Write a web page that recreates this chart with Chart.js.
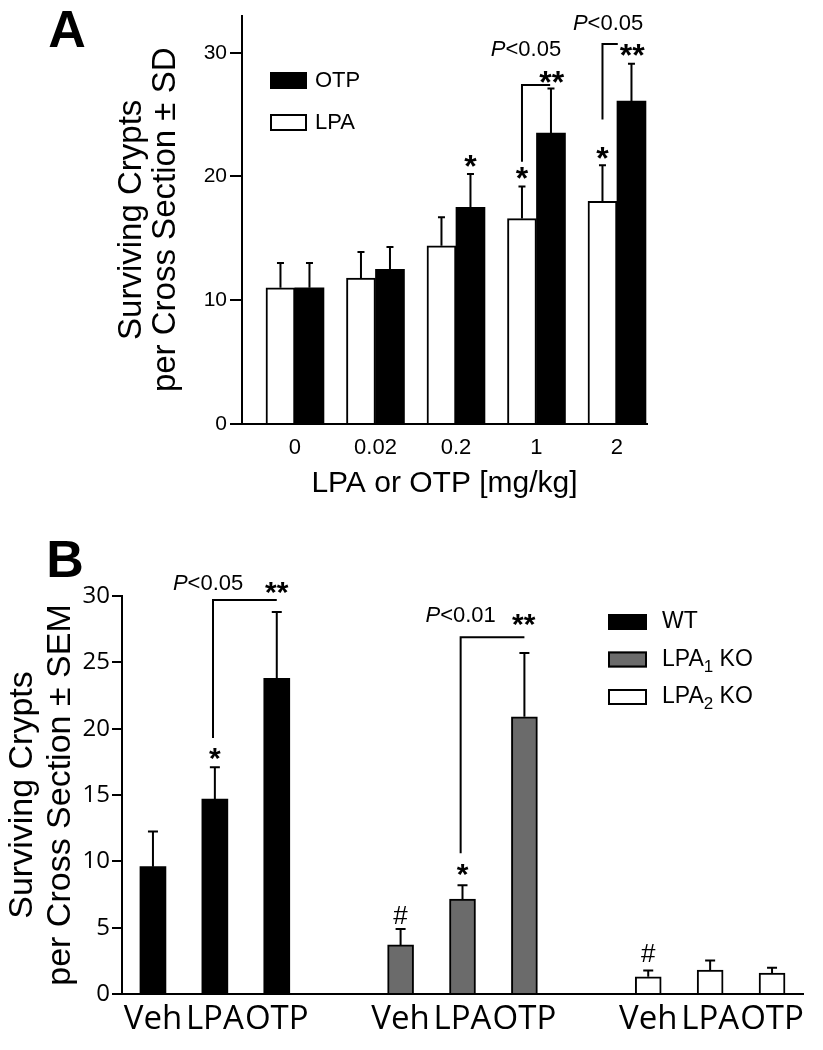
<!DOCTYPE html>
<html><head><meta charset="utf-8">
<script src="https://cdn.jsdelivr.net/npm/chart.js@4.4.0/dist/chart.umd.min.js"></script>
<style>
html,body{margin:0;padding:0;background:#fff;}
#wrap{position:relative;width:823px;height:1050px;overflow:hidden;background:#fff;}
.pane{position:absolute;left:0;width:823px;}
#pa{top:0;height:510px;}
#pb{top:510px;height:540px;}
canvas{display:block;}
</style></head><body>
<div id="wrap">
<div class="pane" id="pa"><canvas id="ca" width="823" height="510"></canvas></div>
<div class="pane" id="pb"><canvas id="cb" width="823" height="540"></canvas></div>
</div>
<script>
// ---------- Panel A data ----------
const dosesA = ['0', '0.02', '0.2', '1', '2'];
const lpaA = [11.0, 11.8, 14.4, 16.6, 18.0];
const lpaSdA = [2.0, 2.1, 2.3, 2.6, 2.9];
const otpA = [11.0, 12.5, 17.5, 23.5, 26.1];
const otpSdA = [2.0, 1.8, 2.7, 3.6, 3.0];
const yTicksA = [0, 10, 20, 30];

// ---------- Panel B data ----------
const treatB = ['Veh', 'LPA', 'OTP'];
const seriesB = ['WT', 'LPA1 KO', 'LPA2 KO'];
const wtB = [9.6, 14.7, 23.8];
const wtSemB = [2.65, 2.4, 5.0];
const ko1B = [3.7, 7.15, 20.9];
const ko1SemB = [1.2, 1.05, 4.8];
const ko2B = [1.3, 1.8, 1.58];
const ko2SemB = [0.48, 0.72, 0.4];
const yTicksB = [0, 5, 10, 15, 20, 25, 30];

const SANS = '"Liberation Sans", Arial, Helvetica, sans-serif';
const HUM = '"Open Sans", "Noto Sans", sans-serif';
Chart.defaults.font.family = SANS;
Chart.defaults.color = '#000';

function centerText(ctx, text, x, y, font) {
  ctx.font = font;
  ctx.textAlign = 'center';
  ctx.textBaseline = 'alphabetic';
  const m = ctx.measureText(text);
  const base = y + (m.actualBoundingBoxAscent - m.actualBoundingBoxDescent) / 2;
  ctx.fillText(text, x, base);
}
function pText(ctx, text, x, y, size) {
  const first = text[0], rest = text.slice(1);
  const fi = 'italic ' + size + 'px ' + SANS, fn = size + 'px ' + SANS;
  ctx.font = fi; const w1 = ctx.measureText(first).width;
  ctx.font = fn; const w2 = ctx.measureText(rest).width;
  const x0 = x - (w1 + w2) / 2;
  ctx.textAlign = 'left'; ctx.textBaseline = 'middle';
  ctx.font = fi; ctx.fillText(first, x0, y);
  ctx.font = fn; ctx.fillText(rest, x0 + w1, y);
}
function valueOf(raw) { return raw && typeof raw === 'object' ? raw.y : raw; }

const annotPlugin = {
  id: 'annot',
  afterDatasetsDraw(chart, args, o) {
    const ctx = chart.ctx, xs = chart.scales.x, ys = chart.scales.y;
    ctx.save();
    ctx.fillStyle = '#000'; ctx.strokeStyle = '#000';
    // error bars (upper whisker)
    chart.data.datasets.forEach((ds, di) => {
      const meta = chart.getDatasetMeta(di);
      meta.data.forEach((el, i) => {
        const v = valueOf(ds.data[i]);
        const e = ds.errors ? ds.errors[i] : null;
        if (v == null || e == null) return;
        const yt = ys.getPixelForValue(v + e);
        ctx.lineWidth = o.errWidth;
        ctx.beginPath();
        ctx.moveTo(el.x, el.y); ctx.lineTo(el.x, yt);
        ctx.moveTo(el.x - o.cap / 2, yt); ctx.lineTo(el.x + o.cap / 2, yt);
        ctx.stroke();
      });
    });
    // significance marks over error bars
    (o.marks || []).forEach(m => {
      const ds = chart.data.datasets[m.ds];
      const el = chart.getDatasetMeta(m.ds).data[m.i];
      const v = valueOf(ds.data[m.i]) + ds.errors[m.i];
      centerText(ctx, m.text, el.x, ys.getPixelForValue(v) - m.gap, m.font);
    });
    // brackets
    (o.brackets || []).forEach(b => {
      ctx.lineWidth = o.bracketWidth;
      ctx.beginPath();
      ctx.moveTo(xs.getPixelForValue(b.x1), ys.getPixelForValue(b.y1));
      ctx.lineTo(xs.getPixelForValue(b.x1), ys.getPixelForValue(b.y2));
      ctx.lineTo(xs.getPixelForValue(b.x2), ys.getPixelForValue(b.y2));
      ctx.stroke();
    });
    // free texts
    (o.texts || []).forEach(t => {
      const x = xs.getPixelForValue(t.x), y = ys.getPixelForValue(t.y);
      if (t.p) pText(ctx, t.text, x, y, t.size);
      else centerText(ctx, t.text, x, y, t.font);
    });
    ctx.restore();
  },
  afterDraw(chart, args, o) {
    const ctx = chart.ctx;
    ctx.save();
    if (o.letter) centerText(ctx, o.letter.text, o.letter.x, o.letter.y, 'bold ' + o.letter.size + 'px ' + SANS);
    if (o.legend) {
      const L = o.legend;
      L.order.forEach((di, k) => {
        const ds = chart.data.datasets[di];
        const top = L.y + k * L.gap;
        ctx.fillStyle = ds.backgroundColor;
        ctx.fillRect(L.x, top, L.w, L.h);
        ctx.strokeStyle = '#000'; ctx.lineWidth = 2;
        ctx.strokeRect(L.x + 1, top + 1, L.w - 2, L.h - 2);
        ctx.fillStyle = '#000';
        ctx.textAlign = 'left'; ctx.textBaseline = 'middle';
        const cy = top + L.h / 2;
        let x = L.tx;
        const mm = /^(\D+)(\d)(.*)$/.exec(ds.label);
        if (mm) {
          ctx.font = L.size + 'px ' + SANS;
          ctx.fillText(mm[1], x, cy); x += ctx.measureText(mm[1]).width;
          ctx.font = Math.round(L.size * 0.75) + 'px ' + SANS;
          ctx.fillText(mm[2], x, cy + L.size * 0.32); x += ctx.measureText(mm[2]).width;
          ctx.font = L.size + 'px ' + SANS;
          ctx.fillText(mm[3], x, cy);
        } else {
          ctx.font = L.size + 'px ' + SANS;
          ctx.fillText(ds.label, x, cy);
        }
      });
    }
    ctx.restore();
  }
};

// ---------- Chart A ----------
new Chart(document.getElementById('ca'), {
  type: 'bar',
  data: {
    datasets: [
      { label: 'LPA', data: lpaA.map((v, i) => ({ x: i, y: v })), errors: lpaSdA,
        backgroundColor: '#ffffff', borderColor: '#000', borderWidth: 2, borderSkipped: 'bottom',
        barThickness: 29 },
      { label: 'OTP', data: otpA.map((v, i) => ({ x: i, y: v })), errors: otpSdA,
        backgroundColor: '#000000', borderColor: '#000', borderWidth: 0, barThickness: 29 }
    ]
  },
  options: {
    responsive: false, animation: false, devicePixelRatio: 1,
    layout: { padding: { top: 14, left: 100, right: 176, bottom: 0 } },
    plugins: {
      legend: { display: false }, tooltip: { enabled: false },
      annot: {
        errWidth: 2, cap: 7, bracketWidth: 2,
        marks: [
          { ds: 1, i: 2, text: '*', gap: 13, font: 'bold 32px ' + SANS },
          { ds: 0, i: 3, text: '*', gap: 13, font: 'bold 32px ' + SANS },
          { ds: 0, i: 4, text: '*', gap: 12, font: 'bold 32px ' + SANS }
        ],
        brackets: [
          { x1: 2.82, x2: 3.17, y1: 21.2, y2: 27.4 },
          { x1: 3.82, x2: 4.01, y1: 24.6, y2: 30.7 }
        ],
        texts: [
          { x: 3.19, y: 28.0, text: '**', font: 'bold 32px ' + SANS },
          { x: 4.19, y: 30.2, text: '**', font: 'bold 32px ' + SANS },
          { x: 2.87, y: 30.2, text: 'P<0.05', p: true, size: 22 },
          { x: 3.89, y: 32.35, text: 'P<0.05', p: true, size: 22 }
        ],
        letter: { text: 'A', x: 67, y: 29, size: 52 },
        legend: { order: [1, 0], x: 270, y: 72, gap: 42, w: 37, h: 17, tx: 315, size: 22 }
      }
    },
    scales: {
      x: {
        type: 'linear', min: -0.658, max: 4.373, offset: false,
        grid: { display: false, offset: false, drawTicks: false },
        border: { display: true, color: '#000', width: 2 },
        afterBuildTicks: s => { s.ticks = dosesA.map((_, i) => ({ value: i })); },
        ticks: { callback: v => dosesA[v], font: { size: 22 }, padding: 11, maxRotation: 0, autoSkip: false, color: '#000' },
        title: { display: true, text: 'LPA or OTP [mg/kg]', color: '#000', font: { size: 30, lineHeight: '33px' }, padding: { top: 0, bottom: 10 } },
        afterFit: s => { s.height = 86; }
      },
      y: {
        min: 0, max: 33,
        afterBuildTicks: s => { s.ticks = yTicksA.map(v => ({ value: v })); },
        grid: { drawOnChartArea: false, drawTicks: true, tickLength: 12, color: '#000', lineWidth: 2 },
        border: { display: true, color: '#000', width: 2 },
        ticks: { font: { size: 21 }, padding: 3, color: '#000' },
        title: { display: true, text: ['Surviving Crypts', 'per Cross Section ± SD'], color: '#000', font: { size: 33, lineHeight: '34px' }, padding: { top: 15, bottom: 0 } },
        afterFit: s => { s.width = 142; }
      }
    }
  },
  plugins: [annotPlugin]
});

// ---------- Chart B ----------
const labelsB = [...treatB, '', ...treatB, '', ...treatB];
function slot(vals, g) {
  const arr = Array(labelsB.length).fill(null);
  vals.forEach((v, i) => { arr[g * (treatB.length + 1) + i] = v; });
  return arr;
}
new Chart(document.getElementById('cb'), {
  type: 'bar',
  data: {
    labels: labelsB,
    datasets: [
      { label: seriesB[0], data: slot(wtB, 0), errors: slot(wtSemB, 0),
        backgroundColor: '#000000', borderColor: '#000', borderWidth: 0, barThickness: 26, grouped: false },
      { label: seriesB[1], data: slot(ko1B, 1), errors: slot(ko1SemB, 1),
        backgroundColor: '#6b6b6b', borderColor: '#000', borderWidth: 2, borderSkipped: 'bottom', barThickness: 26, grouped: false },
      { label: seriesB[2], data: slot(ko2B, 2), errors: slot(ko2SemB, 2),
        backgroundColor: '#ffffff', borderColor: '#000', borderWidth: 2, borderSkipped: 'bottom', barThickness: 26, grouped: false }
    ]
  },
  options: {
    responsive: false, animation: false, devicePixelRatio: 1,
    layout: { padding: { top: 86, left: 0, right: 20, bottom: 0 } },
    plugins: {
      legend: { display: false }, tooltip: { enabled: false },
      annot: {
        errWidth: 2, cap: 10, bracketWidth: 2,
        marks: [
          { ds: 0, i: 1, text: '*', gap: 13, font: 'bold 30px ' + SANS },
          { ds: 1, i: 4, text: '#', gap: 14, font: '26px ' + SANS },
          { ds: 1, i: 5, text: '*', gap: 15, font: 'bold 30px ' + SANS },
          { ds: 2, i: 8, text: '#', gap: 17, font: '26px ' + SANS }
        ],
        brackets: [
          { x1: 0.97, x2: 2.0, y1: 19.3, y2: 29.7 },
          { x1: 4.97, x2: 6.0, y1: 10.6, y2: 26.9 }
        ],
        texts: [
          { x: 2.0, y: 30.6, text: '**', font: 'bold 30px ' + SANS },
          { x: 0.89, y: 30.9, text: 'P<0.05', p: true, size: 22 },
          { x: 5.99, y: 28.2, text: '**', font: 'bold 30px ' + SANS },
          { x: 4.97, y: 28.5, text: 'P<0.01', p: true, size: 22 }
        ],
        letter: { text: 'B', x: 65, y: 49, size: 52 },
        legend: { order: [0, 1, 2], x: 608, y: 104, gap: 37.5, w: 39, h: 16, tx: 662, size: 23 }
      }
    },
    scales: {
      x: {
        type: 'category', offset: true,
        grid: { display: false, drawTicks: false, offset: true },
        border: { display: true, color: '#000', width: 2 },
        ticks: { font: { family: HUM, size: 33 }, padding: 6, maxRotation: 0, autoSkip: false, color: '#000' },
        afterFit: s => { s.height = 56; }
      },
      y: {
        min: 0, max: 30,
        afterBuildTicks: s => { s.ticks = yTicksB.map(v => ({ value: v })); },
        grid: { drawOnChartArea: false, drawTicks: true, tickLength: 10, color: '#000', lineWidth: 2 },
        border: { display: true, color: '#000', width: 2 },
        ticks: { font: { family: HUM, size: 24 }, padding: 2, color: '#000' },
        title: { display: true, text: ['Surviving Crypts', 'per Cross Section ± SEM'], color: '#000', font: { size: 34, lineHeight: '38px' }, padding: { top: 4, bottom: 0 } },
        afterFit: s => { s.width = 122; }
      }
    }
  },
  plugins: [annotPlugin]
});
</script>
</body></html>
